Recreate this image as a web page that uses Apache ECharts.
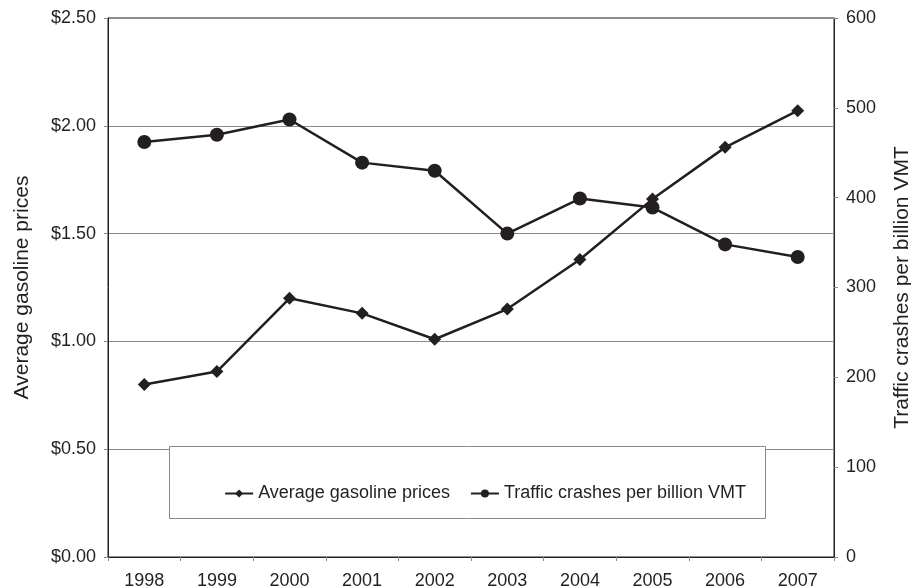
<!DOCTYPE html>
<html>
<head>
    <title>Gasoline prices and traffic crashes</title>
    <script src="https://cdn.jsdelivr.net/npm/echarts@6/dist/echarts.min.js"></script>
    <style>
        html, body { margin: 0; padding: 0; background: #fff; }
        #chart { width: 911px; height: 587px; }
    </style>
</head>
<body>
    <div id="chart"></div>

    <script>
        // values
        const years = ['1998', '1999', '2000', '2001', '2002', '2003', '2004', '2005', '2006', '2007'];
        const gasPrices = [0.80, 0.86, 1.20, 1.13, 1.01, 1.15, 1.38, 1.66, 1.90, 2.07];
        const crashesPerVmt = [462, 470, 487, 439, 430, 360, 399, 389, 348, 334];

        const ink = '#231f20';
        const font = 'Liberation Sans, Arial, sans-serif';

        const chart = echarts.init(document.getElementById('chart'));

        chart.setOption({
            animation: false,
            backgroundColor: '#fff',
            textStyle: { fontFamily: font, color: ink },
            grid: {
                left: 108, right: 77, top: 18, bottom: 30,
                outerBoundsMode: 'none',
                containLabel: false,
                show: true, borderColor: ink, borderWidth: 1
            },
            // white legend box sitting over the $0.50 gridline
            graphic: [{
                type: 'rect',
                z: 5,
                shape: { x: 169.5, y: 446.5, width: 596, height: 72 },
                style: { fill: '#fff', stroke: '#8a8a8a', lineWidth: 1 }
            }],
            legend: {
                z: 10,
                right: 160,
                top: 473,
                itemWidth: 28,
                itemHeight: 10,
                itemGap: 20,
                textStyle: { fontSize: 18, color: ink, fontFamily: font },
                data: ['Average gasoline prices', 'Traffic crashes per billion VMT']
            },
            xAxis: {
                type: 'category',
                data: years,
                boundaryGap: true,
                axisLine: { lineStyle: { color: ink, width: 1 } },
                axisTick: { show: true, length: 4, lineStyle: { color: '#888' } },
                axisLabel: { fontSize: 18, color: ink, margin: 9 }
            },
            yAxis: [{
                type: 'value',
                min: 0, max: 2.5, interval: 0.5,
                name: 'Average gasoline prices',
                nameLocation: 'middle',
                nameRotate: 90,
                nameGap: 68,
                nameTextStyle: { fontSize: 21, color: ink },
                axisLine: { show: true, lineStyle: { color: ink, width: 1 } },
                axisTick: { show: true, length: 4, lineStyle: { color: '#888' } },
                axisLabel: {
                    fontSize: 18, color: ink, margin: 12,
                    formatter: v => '$' + v.toFixed(2)
                },
                splitLine: { show: true, lineStyle: { color: '#8a8a8a', width: 1 } }
            }, {
                type: 'value',
                min: 0, max: 600, interval: 100,
                name: 'Traffic crashes per billion VMT',
                nameLocation: 'middle',
                nameRotate: 90,
                nameGap: 50,
                nameMoveOverlap: false,
                nameTextStyle: { fontSize: 21, color: ink },
                axisLine: { show: true, lineStyle: { color: ink, width: 1 } },
                axisTick: { show: true, length: 4, lineStyle: { color: '#888' } },
                axisLabel: { fontSize: 18, color: ink, margin: 12 },
                splitLine: { show: false }
            }],
            series: [{
                name: 'Average gasoline prices',
                type: 'line',
                yAxisIndex: 0,
                data: gasPrices,
                symbol: 'diamond',
                symbolSize: 13,
                lineStyle: { color: ink, width: 2.5 },
                itemStyle: { color: ink }
            }, {
                name: 'Traffic crashes per billion VMT',
                type: 'line',
                yAxisIndex: 1,
                data: crashesPerVmt,
                symbol: 'circle',
                symbolSize: 14,
                lineStyle: { color: ink, width: 2.5 },
                itemStyle: { color: ink }
            }]
        });
    </script>
</body>
</html>
